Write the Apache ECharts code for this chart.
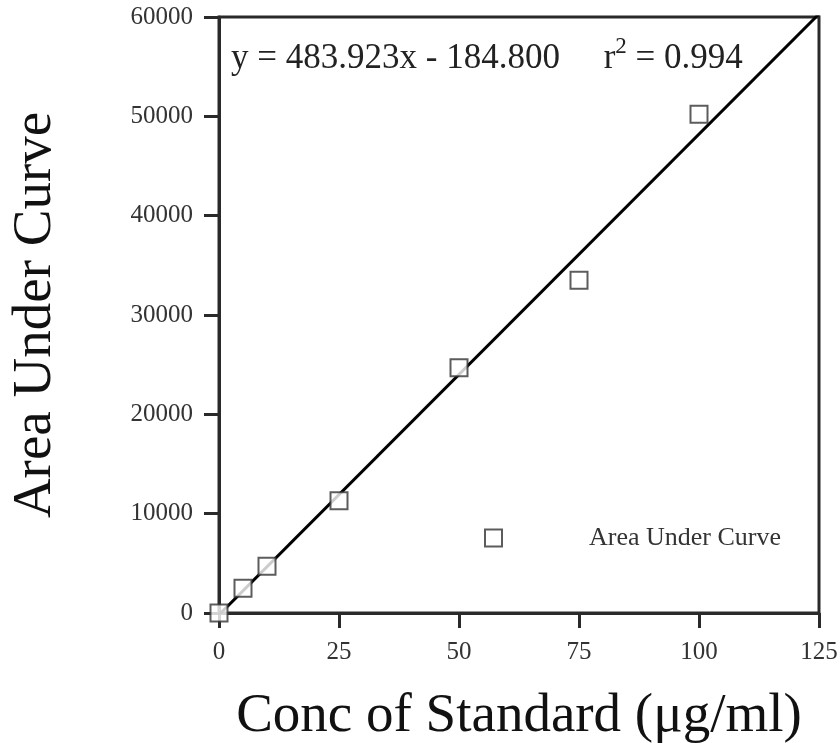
<!DOCTYPE html>
<html>
<head>
<meta charset="utf-8">
<script src="https://cdn.jsdelivr.net/npm/echarts@6/dist/echarts.min.js"></script>
<style>
  html, body { margin: 0; padding: 0; background: #fff; }
  #chart { width: 840px; height: 743px; }
</style>
</head>
<body>
<div id="chart"></div>
<script>
// standards
const conc = [0, 5, 10, 25, 50, 75, 100];
const area = [0, 2500, 4700, 11300, 24700, 33500, 50200];
// regression line end points (y = 483.923x - 184.800)
const fitX = [0, 125];
const fitY = [-184.8, 60305.6];
const xTicks = [0, 25, 50, 75, 100, 125];
const yTicks = [0, 10000, 20000, 30000, 40000, 50000, 60000];

const font = "Liberation Serif";
const ink = "#2a2a2a";

const chart = echarts.init(document.getElementById("chart"));

const option = {
  animation: false,
  backgroundColor: "#fff",
  textStyle: { fontFamily: font },
  grid: {
    left: 219, right: 21, top: 17, bottom: 130,
    outerBoundsMode: "none",
    show: true, borderColor: ink, borderWidth: 3
  },
  title: {
    left: 226,
    top: 30,
    text: "y = 483.923x - 184.800     r{sup|2} = 0.994",
    textStyle: {
      fontFamily: font,
      fontSize: 35,
      fontWeight: "normal",
      color: "#222",
      rich: {
        sup: { fontFamily: font, fontSize: 23, color: "#222", padding: [0, 0, 24, 0] }
      }
    }
  },
  legend: {
    left: 479,
    top: 520,
    data: [{ name: "Area Under Curve", icon: "emptyRect" }],
    itemWidth: 17,
    itemHeight: 17,
    textStyle: { fontFamily: font, fontSize: 26, color: "#333", padding: [4, 0, 0, 82] }
  },
  xAxis: {
    type: "value",
    min: xTicks[0],
    max: xTicks[xTicks.length - 1],
    interval: 25,
    name: "Conc of Standard (μg/ml)",
    nameLocation: "middle",
    nameGap: 76,
    nameTextStyle: { fontFamily: font, fontSize: 55, color: "#111" },
    axisLine: { lineStyle: { color: ink, width: 3 } },
    axisTick: { length: 15, lineStyle: { color: ink, width: 3 } },
    axisLabel: { fontFamily: font, fontSize: 25, color: "#333", margin: 27 },
    splitLine: { show: false }
  },
  yAxis: {
    type: "value",
    min: yTicks[0],
    max: yTicks[yTicks.length - 1],
    interval: 10000,
    name: "Area Under Curve",
    nameLocation: "middle",
    nameGap: 156,
    nameTextStyle: { fontFamily: font, fontSize: 55, color: "#111" },
    axisLine: { lineStyle: { color: ink, width: 3 } },
    axisTick: { length: 15, lineStyle: { color: ink, width: 3 } },
    axisLabel: { fontFamily: font, fontSize: 25, color: "#333", margin: 26, formatter: v => String(v) },
    splitLine: { show: false }
  },
  series: [
    {
      name: "fit",
      type: "line",
      data: fitX.map((x, i) => [x, fitY[i]]),
      symbol: "none",
      lineStyle: { color: "#000", width: 3 },
      silent: true,
      z: 3
    },
    {
      name: "Area Under Curve",
      type: "scatter",
      data: conc.map((c, i) => [c, area[i]]),
      symbol: "emptyRect",
      symbolSize: 17,
      itemStyle: { color: "#333", borderWidth: 3 },
      z: 4
    }
  ]
};

chart.setOption(option);
</script>
</body>
</html>
